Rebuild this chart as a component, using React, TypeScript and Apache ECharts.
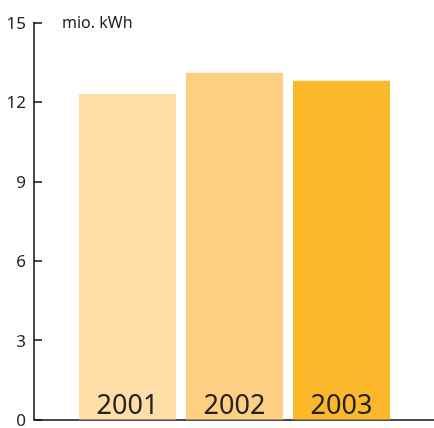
import React, { useEffect, useRef } from "react";
import * as echarts from "echarts";

const categories = ["2001", "2002", "2003"];
const values = [12.3, 13.1, 12.8];
const barColors = ["#FEDDA7", "#FDCF82", "#FBB82B"];
const unitLabel = "mio. kWh";
const yMin = 0;
const yMax = 15;
const yInterval = 3;

export default function App() {
  const ref = useRef<HTMLDivElement>(null);
  useEffect(() => {
    if (!ref.current) return;
    const chart = echarts.init(ref.current, undefined, { renderer: "svg" });
    const font = "'Noto Sans', 'Open Sans', sans-serif";
    chart.setOption({
      animation: false,
      title: {
        text: unitLabel,
        left: 57,
        top: 9,
        textStyle: { fontFamily: font, fontSize: 16, fontWeight: "normal", color: "#222" },
      },
      grid: { left: 34, right: 0, top: 22.5, bottom: 5.5, containLabel: false },
      xAxis: {
        type: "value",
        min: 0.1262,
        max: 3.8645,
        axisLine: { show: true, onZero: false, lineStyle: { color: "#111", width: 1.5 } },
        axisTick: { show: false },
        axisLabel: { show: false },
        splitLine: { show: false },
      },
      yAxis: {
        type: "value",
        min: yMin,
        max: yMax,
        interval: yInterval,
        axisLine: { show: true, lineStyle: { color: "#111", width: 1.5 } },
        axisTick: { show: true, inside: true, length: 8, lineStyle: { color: "#111", width: 1.5 } },
        axisLabel: { margin: 8, fontFamily: font, fontSize: 17, color: "#222" },
        splitLine: { show: false },
      },
      series: [
        {
          type: "bar",
          barWidth: 97,
          data: categories.map((c, i) => ({
            value: [i + 1, values[i]],
            name: c,
            itemStyle: { color: barColors[i] },
          })),
          label: {
            show: true,
            position: "insideBottom",
            distance: 3,
            formatter: (p: any) => p.name,
            fontFamily: font,
            fontSize: 27,
            color: "#222",
          },
        },
      ],
    });
    return () => chart.dispose();
  }, []);
  return (
    <div
      ref={ref}
      style={{ position: "fixed", left: 0, top: 0, width: 434, height: 428 }}
    />
  );
}
